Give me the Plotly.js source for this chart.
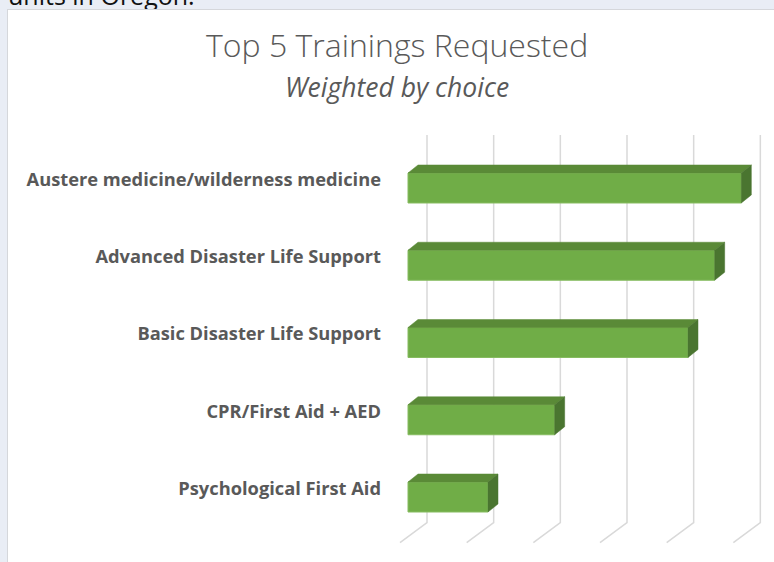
<!DOCTYPE html>
<html>
<head>
<meta charset="utf-8">
<script src="https://cdn.plot.ly/plotly-3.0.1.min.js"></script>
<style>
  html, body { margin:0; padding:0; width:774px; height:562px; overflow:hidden; background:#e9edf5; }
  #top { position:absolute; left:8px; top:-17px; font-family:'Open Sans', sans-serif; font-size:25px; color:#111; line-height:25px; white-space:nowrap; }
  #chart { position:absolute; left:8px; top:10px; width:766px; height:552px; background:#fff; outline:1px solid #d5d7db; }
</style>
</head>
<body>
<div id="top">units in Oregon.</div>
<div id="chart"></div>
<script>
// ---- data ----
const categories = [
  "Austere medicine/wilderness medicine",
  "Advanced Disaster Life Support",
  "Basic Disaster Life Support",
  "CPR/First Aid + AED",
  "Psychological First Aid"
];
const values = [50, 46, 42, 22, 12];
const gridValues = [0, 10, 20, 30, 40, 50];
const titleText = "Top 5 Trainings Requested";
const subtitleText = "Weighted by choice";

// ---- geometry (data units) ----
const n = categories.length;
const pos = categories.map((c, i) => n - 1 - i);   // top category highest
const halfH = 0.194;      // half height of bar front face
const depthX = 1.5;       // oblique depth offset in x units
const depthY = 0.104;     // oblique depth offset in y units
const gridTop = 4.686, gridBackBottom = -0.330, gridFront = -0.589;
const backOff = 2.85, frontOff = -1.2;

const front = '#70ad47', topC = '#5a8a37', sideC = '#4a7530', gridC = '#d9d9d9';
const FONT = '"Open Sans", Lato, sans-serif';

const traces = [];
values.forEach((v, i) => {
  const yc = pos[i];
  // front face
  traces.push({
    type: 'scatter', mode: 'lines', fill: 'toself', fillcolor: front, hoverinfo: 'skip', showlegend: false,
    x: [0, v, v, 0, 0],
    y: [yc - halfH, yc - halfH, yc + halfH, yc + halfH, yc - halfH],
    line: { color: '#86bb60', width: 1 }
  });
  // top face
  traces.push({
    type: 'scatter', mode: 'lines', fill: 'toself', fillcolor: topC, hoverinfo: 'skip', showlegend: false,
    x: [0, v, v + depthX, depthX, 0],
    y: [yc + halfH, yc + halfH, yc + halfH + depthY, yc + halfH + depthY, yc + halfH],
    line: { color: topC, width: 0.5 }
  });
  // side face
  traces.push({
    type: 'scatter', mode: 'lines', fill: 'toself', fillcolor: sideC, hoverinfo: 'skip', showlegend: false,
    x: [v, v + depthX, v + depthX, v, v],
    y: [yc - halfH, yc - halfH + depthY, yc + halfH + depthY, yc + halfH, yc - halfH],
    line: { color: sideC, width: 0.5 }
  });
});

// gridlines (back wall + floor) drawn beneath the bars
const shapes = gridValues.map(g => ({
  type: 'path', xref: 'x', yref: 'y', layer: 'below',
  path: 'M' + (g + backOff) + ',' + gridTop + ' L' + (g + backOff) + ',' + gridBackBottom + ' L' + (g + frontOff) + ',' + gridFront,
  line: { color: gridC, width: 1.5 }
}));

const layout = {
  width: 766, height: 552,
  margin: { l: 380, r: 0, t: 0, b: 0 },
  paper_bgcolor: '#ffffff', plot_bgcolor: '#ffffff',
  showlegend: false,
  shapes: shapes,
  title: {
    text: titleText,
    font: { family: FONT, size: 32, color: '#595959', weight: 300 },
    xref: 'container', x: 0.508, xanchor: 'center',
    yref: 'container', y: 0.9348, yanchor: 'middle'
  },
  annotations: [{
    text: '<i>' + subtitleText + '</i>', showarrow: false,
    xref: 'paper', x: 0.0233, xanchor: 'center',
    yref: 'paper', y: 0.8605, yanchor: 'middle',
    font: { family: FONT, size: 26.5, color: '#595959' }
  }],
  xaxis: { range: [-3, 54.9], visible: false, fixedrange: true },
  yaxis: {
    range: [-0.841, 6.304], fixedrange: true,
    showgrid: false, zeroline: false, showline: false, ticks: '',
    tickvals: pos.map(p => p + 0.11), ticktext: categories,
    ticklabelstandoff: 6,
    tickfont: { family: FONT, size: 18.3, color: '#595959', weight: 'bold' }
  }
};

Plotly.newPlot('chart', traces, layout, { displayModeBar: false, staticPlot: true });
</script>
</body>
</html>
